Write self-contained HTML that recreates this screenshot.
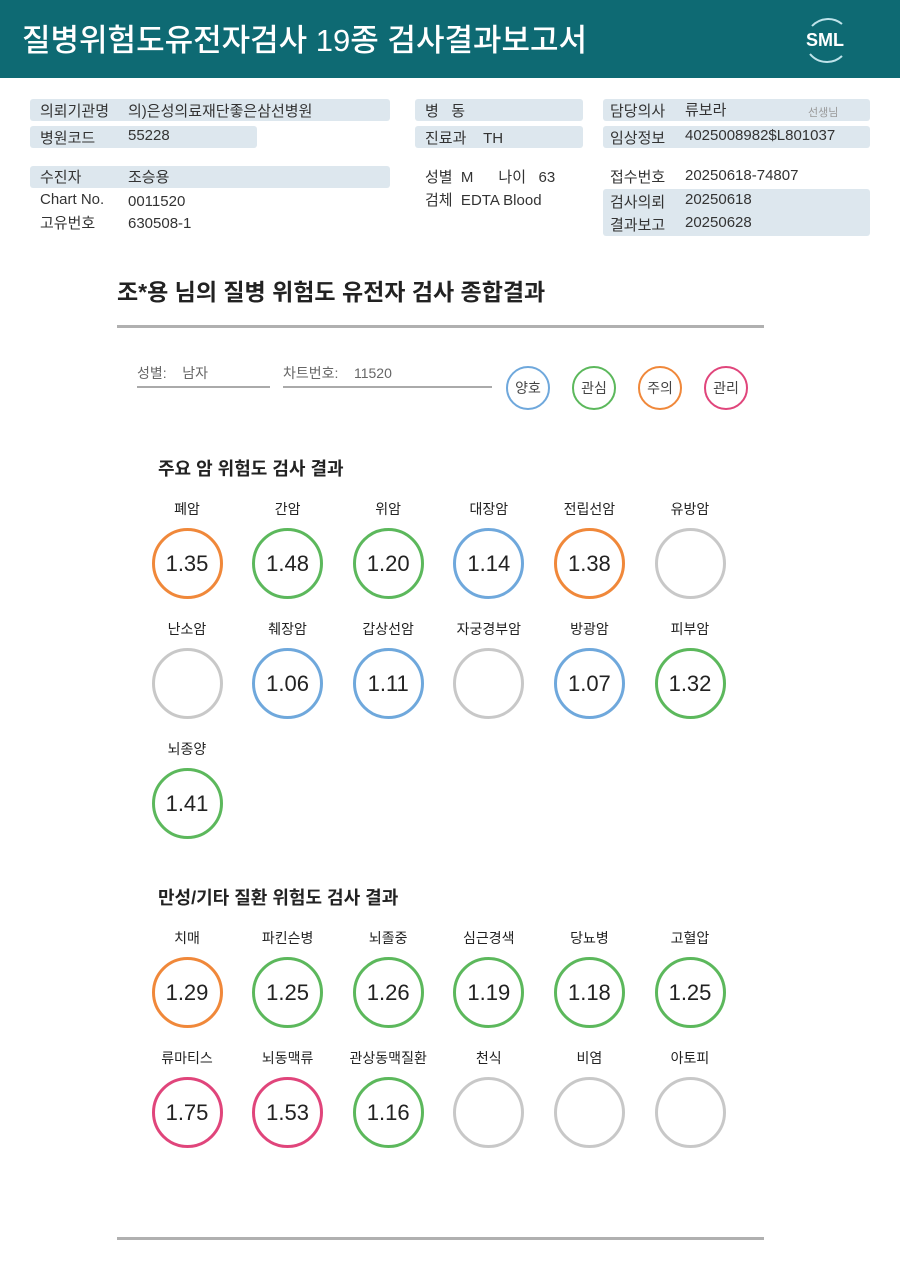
<!DOCTYPE html>
<html><head><meta charset="utf-8">
<style>
body{margin:0;width:900px;height:1271px;background:#fff;position:relative;overflow:hidden;font-family:"Liberation Sans","Noto Sans CJK KR",sans-serif;color:#222}
.a{position:absolute;white-space:nowrap}
.hdr{left:0;top:0;width:900px;height:78px;background:#0e6a73}
.box{position:absolute;background:#dde7ee;border-radius:3px;height:22px}
.t{position:absolute;font-size:15px;color:#333;white-space:nowrap}
.lab{position:absolute;font-size:14px;color:#222;text-align:center;width:100px}
.leg{position:absolute;width:40px;height:40px;border-radius:50%;border:2px solid;font-size:14px;text-align:center;line-height:40px;color:#444}
</style></head><body>
<div class="a hdr"></div>
<div class="a" style="left:22px;top:15px;font-size:31px;color:#fff;font-weight:500;">질병위험도유전자검사 19종 검사결과보고서</div>
<div class="a" style="left:800px;top:14px;width:50px;height:50px;">
<svg width="50" height="50"><path d="M12 12 A22 22 0 0 1 42 10" stroke="#bfe3ea" stroke-width="2" fill="none"/><path d="M10 40 A22 22 0 0 0 42 42" stroke="#bfe3ea" stroke-width="2" fill="none"/><text x="25" y="32" text-anchor="middle" font-size="18" font-weight="bold" fill="#fff" font-family="Liberation Sans">SML</text></svg></div>

<div class="box" style="left:30px;top:99px;width:360px"></div>
<div class="box" style="left:30px;top:126px;width:227px"></div>
<div class="box" style="left:30px;top:166px;width:360px"></div>
<div class="box" style="left:415px;top:99px;width:168px"></div>
<div class="box" style="left:415px;top:126px;width:168px"></div>
<div class="box" style="left:603px;top:99px;width:267px"></div>
<div class="box" style="left:603px;top:126px;width:267px"></div>
<div class="box" style="left:603px;top:189px;width:267px;height:47px"></div>

<div class="t" style="left:40px;top:100px">의뢰기관명</div>
<div class="t" style="left:128px;top:100px">의)은성의료재단좋은삼선병원</div>
<div class="t" style="left:40px;top:127px">병원코드</div>
<div class="t" style="left:128px;top:127px">55228</div>
<div class="t" style="left:40px;top:166px">수진자</div>
<div class="t" style="left:128px;top:166px">조승용</div>
<div class="t" style="left:40px;top:191px">Chart No.</div>
<div class="t" style="left:128px;top:193px">0011520</div>
<div class="t" style="left:40px;top:212px">고유번호</div>
<div class="t" style="left:128px;top:215px">630508-1</div>

<div class="t" style="left:425px;top:100px">병&nbsp;&nbsp;&nbsp;동</div>
<div class="t" style="left:425px;top:127px">진료과&nbsp;&nbsp;&nbsp;&nbsp;TH</div>
<div class="t" style="left:425px;top:166px">성별&nbsp;&nbsp;M&nbsp;&nbsp;&nbsp;&nbsp;&nbsp;&nbsp;나이&nbsp;&nbsp;&nbsp;63</div>
<div class="t" style="left:425px;top:189px">검체&nbsp;&nbsp;EDTA Blood</div>

<div class="t" style="left:610px;top:100px">담당의사</div>
<div class="t" style="left:685px;top:99px">류보라</div>
<div class="t" style="left:808px;top:104px;font-size:11px;color:#999">선생님</div>
<div class="t" style="left:610px;top:127px">임상정보</div>
<div class="t" style="left:685px;top:127px">4025008982$L801037</div>
<div class="t" style="left:610px;top:166px">접수번호</div>
<div class="t" style="left:685px;top:167px">20250618-74807</div>
<div class="t" style="left:610px;top:191px">검사의뢰</div>
<div class="t" style="left:685px;top:191px">20250618</div>
<div class="t" style="left:610px;top:214px">결과보고</div>
<div class="t" style="left:685px;top:214px">20250628</div>

<div class="a" style="left:117px;top:273px;font-size:23px;font-weight:bold;color:#222">조*용 님의 질병 위험도 유전자 검사 종합결과</div>
<div class="a" style="left:117px;top:325px;width:647px;height:3px;background:#b0b0b0"></div>
<div class="a" style="left:137px;top:363px;font-size:14px;color:#666">성별:&nbsp;&nbsp;&nbsp;&nbsp;남자</div>
<div class="a" style="left:137px;top:386px;width:133px;height:2px;background:#aaa"></div>
<div class="a" style="left:283px;top:363px;font-size:14px;color:#666">차트번호:&nbsp;&nbsp;&nbsp;&nbsp;11520</div>
<div class="a" style="left:283px;top:386px;width:209px;height:2px;background:#aaa"></div>
<div class="leg" style="left:506px;top:366px;border-color:#6fa8dc">양호</div>
<div class="leg" style="left:572px;top:366px;border-color:#5cb85c">관심</div>
<div class="leg" style="left:638px;top:366px;border-color:#f0883a">주의</div>
<div class="leg" style="left:704px;top:366px;border-color:#e0457b">관리</div>

<div class="a" style="left:158px;top:455px;font-size:18px;font-weight:bold">주요 암 위험도 검사 결과</div>
<div class="a" style="left:158px;top:884px;font-size:18px;font-weight:bold">만성/기타 질환 위험도 검사 결과</div>
<div class="a" style="left:117px;top:1237px;width:647px;height:3px;background:#b0b0b0"></div>

<div id="grid"></div>
<script>
const cancerNames=["폐암","간암","위암","대장암","전립선암","유방암","난소암","췌장암","갑상선암","자궁경부암","방광암","피부암","뇌종양"];
const cancerValues=["1.35","1.48","1.20","1.14","1.38","","","1.06","1.11","","1.07","1.32","1.41"];
const cancerLevels=["caution","interest","interest","good","caution","none","none","good","good","none","good","interest","interest"];
const chronicNames=["치매","파킨슨병","뇌졸중","심근경색","당뇨병","고혈압","류마티스","뇌동맥류","관상동맥질환","천식","비염","아토피"];
const chronicValues=["1.29","1.25","1.26","1.19","1.18","1.25","1.75","1.53","1.16","","",""];
const chronicLevels=["caution","interest","interest","interest","interest","interest","manage","manage","interest","none","none","none"];
const colors={good:"#6fa8dc",interest:"#5cb85c",caution:"#f0883a",manage:"#e0457b",none:"#c8c8c8"};
const g=document.getElementById('grid');
function draw(names,vals,levels,top){
  names.forEach((n,i)=>{
    const col=i%6,row=Math.floor(i/6);
    const cx=187+col*100.6, y=top+row*120;
    const l=document.createElement('div');
    l.className='lab';
    
    
    l.style.left=(cx-50)+'px';l.style.top=(y-8)+'px';
    l.textContent=n;g.appendChild(l);
    const c=document.createElement('div');
    
    
    c.className='a';
    c.style.cssText='left:'+(cx-35.5)+'px;top:'+(y+20.5)+'px;width:65px;height:65px;border-radius:50%;border:3.5px solid '+colors[levels[i]]+';text-align:center;line-height:65px;font-size:22px;color:#222';
    c.textContent=vals[i];g.appendChild(c);
  });
}
draw(cancerNames,cancerValues,cancerLevels,507);
draw(chronicNames,chronicValues,chronicLevels,936);
</script>
</body></html>
